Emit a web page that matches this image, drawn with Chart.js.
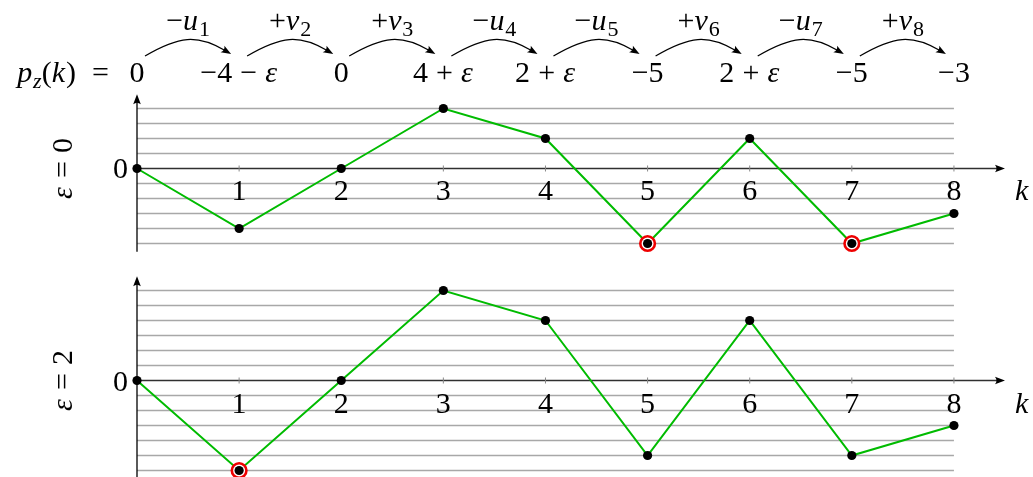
<!DOCTYPE html>
<html><head><meta charset="utf-8">
<script src="https://cdn.jsdelivr.net/npm/chart.js@4"></script>
<style>html,body{margin:0;padding:0;background:#fff;overflow:hidden}#wrap{position:relative;width:1033px;height:477px}</style>
</head><body><div id="wrap"><canvas id="c" width="1033" height="477"></canvas></div>
<script>
// ---------- data ----------
const kSteps = [0, 1, 2, 3, 4, 5, 6, 7, 8];
const pzEps0 = [0, -4, 0, 4, 2, -5, 2, -5, -3];
const pzEps2 = [0, -6, 0, 6, 4, -5, 4, -5, -3];
const topValueLabels = ['0', '−4 − ε', '0', '4 + ε', '2 + ε', '−5', '2 + ε', '−5', '−3'];
const stepLabels = ['−u_1', '+v_2', '+v_3', '−u_4', '−u_5', '+v_6', '−u_7', '+v_8'];
const xTickLabels = ['1', '2', '3', '4', '5', '6', '7', '8'];
const yTickLabel = '0';
const panelLabels = ['ε = 0', 'ε = 2'];
const formulaLabel = 'p_z(k)  =';
const axisLabel = 'k';

// ---------- helpers ----------
const FONT = '"Liberation Serif", "DejaVu Serif", serif';
const GREEN = '#00bb00';
const FS = 30;
function pts(vals) { return kSteps.map((k, i) => ({ x: k, y: vals[i] })); }
function minPts(vals) {
  const m = Math.min(...vals);
  return kSteps.map((k, i) => ({ x: k, y: vals[i] })).filter(p => p.y === m);
}
function parseMath(s) {
  const segs = [];
  for (let i = 0; i < s.length; i++) {
    const c = s[i];
    if (c === '_') { const n = s[i + 1]; segs.push({ t: n, it: /[a-zε]/.test(n), sub: true }); i++; continue; }
    if (c === ' ') { segs.push({ t: ' ', sp: true }); continue; }
    segs.push({ t: c, it: /[a-zε]/.test(c), sub: false });
  }
  return segs;
}
function segFont(seg, size) {
  const sz = seg.sub ? Math.round(size * 0.72) : size;
  return (seg.it ? 'italic ' : '') + sz + 'px ' + FONT;
}
function drawMath(ctx, s, x, y, align, size) {
  const segs = parseMath(s);
  let w = 0;
  segs.forEach(sg => {
    ctx.font = segFont(sg, size);
    sg.w = sg.sp ? size * 0.27 : ctx.measureText(sg.t).width + (sg.it && !sg.sub ? size * 0.03 : 0);
    w += sg.w;
  });
  let cx = align === 'center' ? x - w / 2 : align === 'right' ? x - w : x;
  ctx.textAlign = 'left'; ctx.textBaseline = 'alphabetic'; ctx.fillStyle = '#000';
  segs.forEach(sg => {
    if (!sg.sp) {
      ctx.font = segFont(sg, size);
      ctx.fillText(sg.t, cx, y + (sg.sub ? size * 0.2 : 0));
    }
    cx += sg.w;
  });
}
function arrowHead(ctx, tx, ty, dx, dy, len, half) {
  const d = Math.hypot(dx, dy); dx /= d; dy /= d;
  const bx = tx - dx * len, by = ty - dy * len;
  ctx.beginPath();
  ctx.moveTo(tx, ty);
  ctx.lineTo(bx - dy * half, by + dx * half);
  ctx.quadraticCurveTo(tx - dx * len * 0.7, ty - dy * len * 0.7, bx + dy * half, by - dx * half);
  ctx.closePath();
  ctx.fill();
}

const panels = [
  { yId: 'y1', vals: pzEps0, label: panelLabels[0] },
  { yId: 'y2', vals: pzEps2, label: panelLabels[1] }
];

const decorPlugin = {
  id: 'decor',
  beforeDatasetsDraw(chart) {
    const ctx = chart.ctx, xs = chart.scales.x;
    const x0 = xs.getPixelForValue(0), x8 = xs.getPixelForValue(kSteps[kSteps.length - 1]), xEnd = xs.max;
    ctx.save();
    panels.forEach(p => {
      const ys = chart.scales[p.yId];
      const lo = Math.min(...p.vals), hi = Math.max(...p.vals);
      // grid
      ctx.strokeStyle = '#a8a8a8'; ctx.lineWidth = 1.3;
      for (let v = lo; v <= hi; v++) {
        if (v === 0) continue;
        const y = ys.getPixelForValue(v);
        ctx.beginPath(); ctx.moveTo(x0, y); ctx.lineTo(x8, y); ctx.stroke();
      }
      const y0 = ys.getPixelForValue(0);
      // x axis
      const xa = xs.getPixelForValue(xEnd);
      ctx.strokeStyle = '#303030'; ctx.lineWidth = 1.5;
      ctx.beginPath(); ctx.moveTo(x0, y0); ctx.lineTo(xa - 4, y0); ctx.stroke();
      ctx.fillStyle = '#000';
      arrowHead(ctx, xa, y0, 1, 0, 10, 3.8);
      // x ticks
      ctx.strokeStyle = '#888'; ctx.lineWidth = 1;
      kSteps.slice(1).forEach(k => {
        const x = xs.getPixelForValue(k);
        ctx.beginPath(); ctx.moveTo(x, y0 - 3); ctx.lineTo(x, y0 + 3); ctx.stroke();
      });
      // y axis
      const yTop = ys.getPixelForValue(hi + 0.95), yBot = ys.getPixelForValue(lo - 0.55);
      ctx.strokeStyle = '#000'; ctx.lineWidth = 1.3;
      ctx.beginPath(); ctx.moveTo(x0, yBot); ctx.lineTo(x0, yTop + 4); ctx.stroke();
      arrowHead(ctx, x0, yTop, 0, -1, 10, 3.8);
      // labels
      xTickLabels.forEach((t, i) => drawMath(ctx, t, xs.getPixelForValue(kSteps[i + 1]), y0 + 32, 'center', FS));
      drawMath(ctx, axisLabel, xa + 10, y0 + 32, 'left', FS);
      drawMath(ctx, yTickLabel, x0 - 9, y0 + 10, 'right', FS);
      ctx.save();
      ctx.translate(72, y0); ctx.rotate(-Math.PI / 2);
      drawMath(ctx, p.label, 0, 0, 'center', FS);
      ctx.restore();
    });
    // top formula row
    drawMath(ctx, formulaLabel, 109, 82, 'right', FS);
    topValueLabels.forEach((t, i) => drawMath(ctx, t, xs.getPixelForValue(kSteps[i]), 82, 'center', FS));
    stepLabels.forEach((t, i) => {
      const xa = xs.getPixelForValue(kSteps[i]), xb = xs.getPixelForValue(kSteps[i + 1]);
      drawMath(ctx, t, (xa + xb) / 2, 30, 'center', FS);
      const sx = xa + 8, ex = xb - 8, sy = 56, ey = 54;
      ctx.strokeStyle = '#000'; ctx.lineWidth = 1.2; ctx.fillStyle = '#000';
      ctx.beginPath(); ctx.moveTo(sx, sy);
      ctx.bezierCurveTo(sx + 34, sy - 20, ex - 34, ey - 20, ex - 6, ey - 3.4);
      ctx.stroke();
      arrowHead(ctx, ex, ey, 34, 20, 10, 3.8);
    });
    ctx.restore();
  }
};

const lineDs = (vals, yId) => ({ data: pts(vals), yAxisID: yId, borderColor: GREEN, borderWidth: 2, pointRadius: 0, tension: 0, clip: false, order: 3 });
const ringDs = (vals, yId) => ({ data: minPts(vals), yAxisID: yId, showLine: false, pointRadius: 7.3, pointBorderWidth: 2.6, pointBorderColor: '#ee0000', pointBackgroundColor: '#fff', clip: false, order: 2 });
const dotDs = (vals, yId) => ({ data: pts(vals), yAxisID: yId, showLine: false, pointRadius: 4.6, pointBorderWidth: 0, pointBackgroundColor: '#000', pointBorderColor: '#000', clip: false, order: 1 });

new Chart(document.getElementById('c'), {
  type: 'line',
  data: { datasets: [
    lineDs(pzEps0, 'y1'), ringDs(pzEps0, 'y1'), dotDs(pzEps0, 'y1'),
    lineDs(pzEps2, 'y2'), ringDs(pzEps2, 'y2'), dotDs(pzEps2, 'y2')
  ] },
  options: {
    responsive: false, animation: false, devicePixelRatio: 1,
    layout: { autoPadding: false, padding: { left: 137, right: 28, top: 95, bottom: 0 } },
    plugins: { legend: { display: false }, tooltip: { enabled: false } },
    events: [],
    scales: {
      x: { type: 'linear', min: 0, max: 8.5, display: false },
      y1: { type: 'linear', min: -20.567, max: 4.9, display: false },
      y2: { type: 'linear', min: -6.433, max: 19.033, display: false }
    }
  },
  plugins: [decorPlugin]
});
</script></body></html>
